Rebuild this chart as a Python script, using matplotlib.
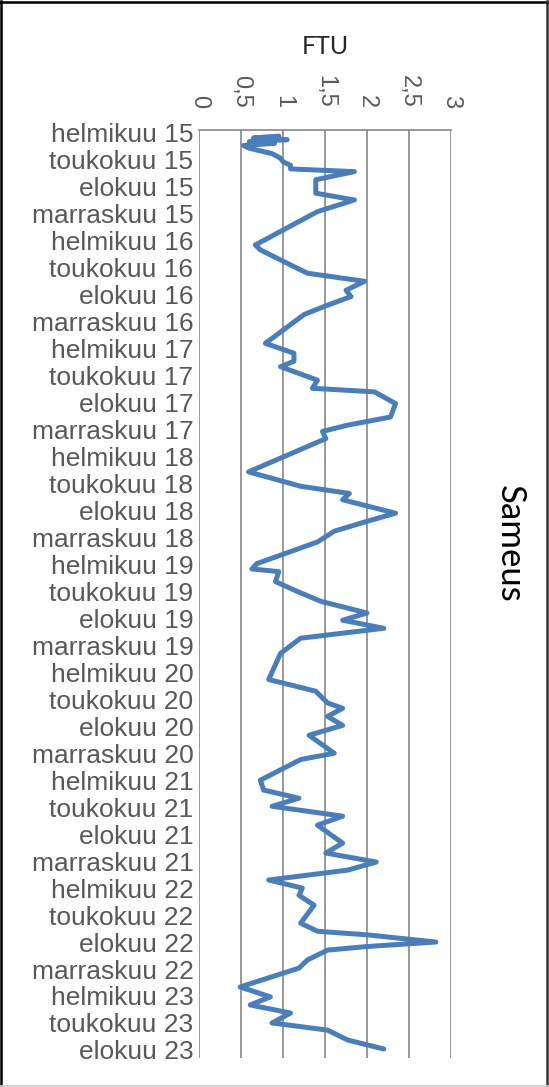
from matplotlib import pyplot as plt
from matplotlib.lines import Line2D
import numpy as np

# measurement time in months after helmikuu 2015, and turbidity (FTU)
kk = [0.35, 0.55, 0.75, 0.95, 1.15, 1.4, 1.7, 2.3, 2.8, 3.2, 3.6, 4.0,
      4.3, 5.2, 6.7, 7.45, 8.75, 12.46, 13.0, 14.5, 15.6, 16.5, 17.5, 18.2,
      19.3, 20.2, 23.4, 24.5, 25.4, 26.0, 27.5, 28.4, 28.8, 30.1, 31.6, 32.5,
      33.2, 34.0, 37.7, 39.3, 40.1, 40.8, 42.3, 43.2, 44.3, 45.5, 47.9, 48.5,
      48.8, 49.9, 51.0, 52.1, 53.4, 54.2, 55.1, 56.2, 57.9, 60.8, 62.1, 63.4,
      64.0, 64.9, 65.9, 67.0, 69.0, 69.7, 72.0, 73.1, 74.0, 74.9, 76.0, 77.0,
      79.0, 80.1, 81.1, 82.0, 83.1, 84.0, 84.8, 85.9, 87.9, 88.8, 89.2, 90.0,
      90.5, 90.9, 92.0, 92.9, 95.0, 96.1, 97.0, 97.9, 99.0, 99.8, 100.9, 101.9]
ftu = [0.95, 0.65, 1.05, 0.6, 0.9, 0.53, 0.6, 0.87, 0.97, 1.0, 1.09, 1.09,
       1.85, 1.39, 1.39, 1.85, 1.41, 0.67, 0.73, 1.05, 1.29, 1.97, 1.75, 1.81,
       1.49, 1.25, 0.79, 1.13, 1.13, 0.97, 1.41, 1.35, 2.09, 2.34, 2.28, 1.77,
       1.47, 1.51, 0.59, 1.21, 1.79, 1.71, 2.34, 2.0, 1.61, 1.41, 0.69, 0.63,
       0.95, 0.91, 1.17, 1.45, 2.0, 1.71, 2.2, 1.21, 0.97, 0.83, 1.39, 1.53,
       1.71, 1.53, 1.71, 1.31, 1.61, 1.21, 0.73, 0.77, 1.19, 0.87, 1.71, 1.41,
       1.71, 1.51, 2.11, 1.77, 0.83, 1.23, 1.19, 1.37, 1.21, 1.41, 2.0, 2.82,
       2.0, 1.53, 1.29, 1.19, 0.49, 0.85, 0.61, 1.09, 0.87, 1.53, 1.77, 2.2]

kuukaudet = ["helmikuu", "toukokuu", "elokuu", "marraskuu"]
vuodet = list(range(15, 24))
y_labels = [f"{m} {v}" for v in vuodet for m in kuukaudet][:35]
y_ticks = np.arange(len(y_labels)) * 3

x_ticks = [0, 0.5, 1, 1.5, 2, 2.5, 3]
x_labels = ["0", "0,5", "1", "1,5", "2", "2,5", "3"]

grid_c = "#878787"
text_c = "#595959"

fig = plt.figure(figsize=(5.49, 10.87), dpi=100)
ax = fig.add_axes([199 / 549, 1 - 1058 / 1087, 252 / 549, 928 / 1087])

ax.plot(ftu, kk, color="#4a7ebb", lw=3.6, solid_joinstyle="round",
        solid_capstyle="round", zorder=3)

ax.set_xlim(0, 3)
ax.set_ylim(102.9, -0.33)
ax.xaxis.tick_top()
ax.set_xticks(x_ticks)
ax.set_xticklabels(x_labels, rotation=-90, fontsize=17,
                   family="Liberation Sans", color=text_c)
ax.set_yticks(y_ticks)
ax.set_yticklabels(y_labels, fontsize=19, family="Liberation Sans", color=text_c)
ax.tick_params(axis="x", length=0, pad=16)
ax.tick_params(axis="y", length=0, pad=4)
ax.grid(axis="x", color=grid_c, lw=1.2)
ax.set_axisbelow(True)
for side in ["left", "right", "bottom"]:
    ax.spines[side].set_visible(False)
ax.spines["top"].set_color(grid_c)
ax.spines["top"].set_linewidth(1.2)

fig.text(325 / 549, 1 - 47 / 1087, "FTU", ha="center", va="center",
         fontsize=18, family="Lato", color="#262626")
fig.text(510 / 549, 0.5, "Sameus", ha="center", va="center", rotation=-90,
         fontsize=25, family="Lato", color="black")

# chart frame
fig.add_artist(Line2D([0.002, 0.002], [0, 0.999], color="black", lw=1.8))
fig.add_artist(Line2D([0, 0.998], [0.998, 0.998], color="black", lw=1.8))
fig.add_artist(Line2D([0.997, 0.997], [0, 0.999], color="#333333", lw=1.8))
fig.add_artist(Line2D([0, 1], [0.001, 0.001], color="#d0d0d0", lw=1.2))

fig.savefig("out.png", dpi=100)
